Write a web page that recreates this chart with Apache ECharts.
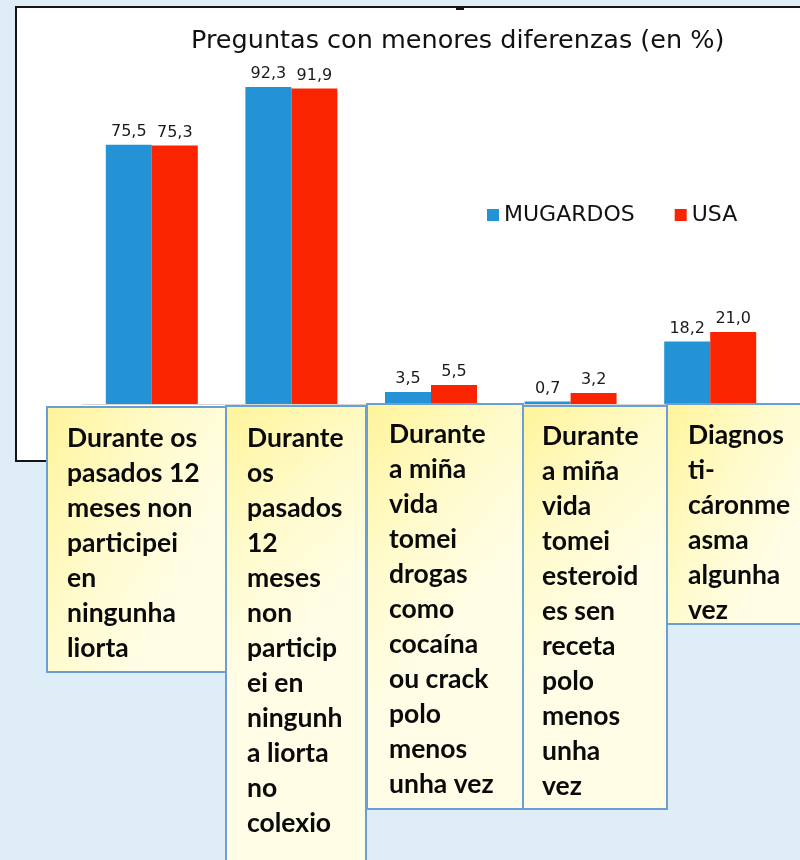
<!DOCTYPE html>
<html>
<head>
<meta charset="utf-8">
<script src="https://cdn.jsdelivr.net/npm/echarts@6/dist/echarts.min.js"></script>
<style>
  html, body { margin: 0; padding: 0; background: #dfedf7; }
  #chart { width: 800px; height: 860px; }
</style>
</head>
<body>
<div id="chart"></div>
<script>
// Survey questions (category labels, wrapped as shown in the note boxes)
const categories = [
  'Durante os\npasados 12\nmeses non\nparticipei\nen\nningunha\nliorta',
  'Durante\nos\npasados\n12\nmeses\nnon\nparticip\nei en\nningunh\na liorta\nno\ncolexio',
  'Durante\na miña\nvida\ntomei\ndrogas\ncomo\ncocaína\nou crack\npolo\nmenos\nunha vez',
  'Durante\na miña\nvida\ntomei\nesteroid\nes sen\nreceta\npolo\nmenos\nunha\nvez',
  'Diagnos\nti-\ncáronme\nasma\nalgunha\nvez'
];
const seriesNames = ['MUGARDOS', 'USA'];
const mugardos = [75.5, 92.3, 3.5, 0.7, 18.2];
const usa = [75.3, 91.9, 5.5, 3.2, 21.0];
const titleText = 'Preguntas con menores diferenzas (en %)';

const BLUE = '#2393d6';
const RED = '#fa2400';

// Note boxes holding the question texts: [x, y, width, height, textX, textTop]
const boxLayout = [
  [47, 407, 179, 265, 67, 421],
  [226, 406, 140, 470, 247, 421],
  [367, 404, 156, 405, 389, 417],
  [523, 406, 144, 403, 542, 419],
  [667, 404, 150, 220, 688, 418]
];

const noteFill = {
  type: 'linear', x: 0, y: 0, x2: 1, y2: 0.35,
  colorStops: [
    { offset: 0, color: '#fff49a' },
    { offset: 0.55, color: '#fffbcc' },
    { offset: 1, color: '#fffde6' }
  ]
};

const graphics = [
  // white chart panel with dark frame
  {
    type: 'rect', z: 0,
    shape: { x: 16, y: 7, width: 800, height: 454 },
    style: { fill: '#ffffff', stroke: '#141414', lineWidth: 2 }
  },
  {
    type: 'rect', z: 1,
    shape: { x: 456, y: 6, width: 8, height: 4 },
    style: { fill: '#141414' }
  }
];

categories.forEach(function (txt, i) {
  const b = boxLayout[i];
  graphics.push({
    type: 'rect', z: 100,
    shape: { x: b[0], y: b[1], width: b[2], height: b[3] },
    style: { fill: noteFill, stroke: '#6c9ed6', lineWidth: 2 }
  });
  graphics.push({
    type: 'text', z: 101,
    x: b[4], y: b[5],
    style: {
      text: txt,
      font: 'bold 26.5px Lato',
      lineHeight: 35,
      fill: '#0a0a0a',
      textAlign: 'left',
      textVerticalAlign: 'top'
    }
  });
});

const fmt = function (p) { return p.value.toFixed(1).replace('.', ','); };

const chart = echarts.init(document.getElementById('chart'), null, { renderer: 'canvas' });
chart.setOption({
  backgroundColor: '#dfedf7',
  animation: false,
  title: {
    text: titleText,
    left: 186,
    top: 23,
    textStyle: { fontFamily: 'DejaVu Sans', fontSize: 25.5, fontWeight: 'normal', color: '#111' }
  },
  legend: {
    data: seriesNames,
    left: 482,
    top: 199,
    icon: 'rect',
    itemWidth: 12,
    itemHeight: 12,
    itemGap: 40,
    textStyle: { fontFamily: 'DejaVu Sans', fontSize: 22, color: '#111' }
  },
  grid: { left: 82, right: 20, top: 60.6, bottom: 456, containLabel: false },
  xAxis: {
    type: 'category',
    data: categories,
    axisLine: { show: true, lineStyle: { color: '#d6d6d6' } },
    axisTick: { show: false },
    axisLabel: { show: false }
  },
  yAxis: {
    type: 'value', min: 0, max: 100,
    show: false,
    splitLine: { show: false }
  },
  graphic: graphics,
  series: [
    {
      name: seriesNames[0], type: 'bar', data: mugardos,
      barWidth: 46, barGap: '0%',
      itemStyle: { color: BLUE },
      label: { show: true, position: 'top', distance: 5, formatter: fmt,
               fontFamily: 'DejaVu Sans', fontSize: 16, color: '#1a1a1a' }
    },
    {
      name: seriesNames[1], type: 'bar', data: usa,
      barWidth: 46, barGap: '0%',
      itemStyle: { color: RED },
      label: { show: true, position: 'top', distance: 5, formatter: fmt,
               fontFamily: 'DejaVu Sans', fontSize: 16, color: '#1a1a1a' }
    }
  ]
});
</script>
</body>
</html>
